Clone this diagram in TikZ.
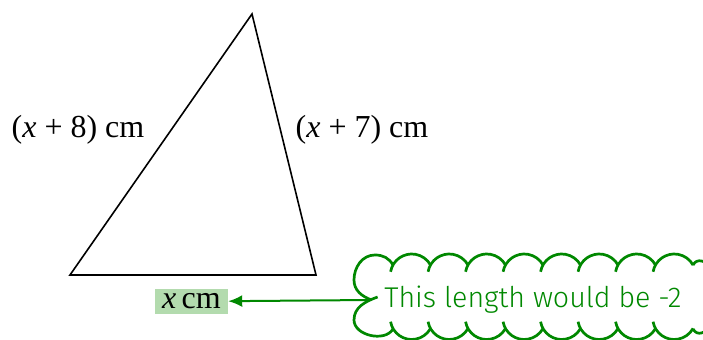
\documentclass[tikz,border=0pt]{standalone}
\usepackage{fontspec}
\setmainfont{Liberation Serif}
\newfontfamily\notefont{Fira Sans Light}
\usepackage{tikz}
\usetikzlibrary{arrows.meta, positioning}
\definecolor{notegreen}{HTML}{008800}
\definecolor{markgreen}{HTML}{B3DBAE}

\begin{document}
\begin{tikzpicture}[x=0.5pt, y=0.5pt,
  side/.style={font=\fontsize{16}{19}\selectfont},
  base/.style={fill=markgreen, inner xsep=3.5pt, inner ysep=2.5pt, font=\fontsize{16}{19}\selectfont},
  note/.style={minimum width=161pt, minimum height=30pt, inner sep=0pt, text=notegreen,
               font=\notefont\fontsize{14.3}{17}\selectfont},
  puff/.style={draw=notegreen, line width=1.35pt},
]
  \useasboundingbox (0,0) rectangle (703,340);
  % triangle
  \coordinate (a) at (70,65);
  \coordinate (b) at (316,65);
  \coordinate (c) at (252,326);
  \draw[line width=0.8pt, line join=miter] (a) -- (b) -- (c) -- cycle;
  \node[side] (left) at (78,210) {(\textit{x} + 8) cm};
  \node[side] (right) at (362,210) {(\textit{x} + 7) cm};
  \node[base] (len) at (191.5,38.5) {\textit{x}\,cm};
  % cloud
  \node[note] (msg) at (533,40) {This length would be -2};
  \foreach \k in {0,...,7} {
    \draw[puff] ({411.75+37.5*\k},64.5) ++(170:10.75pt) arc[start angle=170, end angle=29, radius=10.75pt];
    \draw[puff] ({411.75+37.5*\k},22) ++(190:10.75pt) arc[start angle=190, end angle=331, radius=10.75pt];
  }
  \draw[puff] (393,75) to[out=120,in=0] (375,85) to[out=180,in=90] (354,60) to[out=-90,in=160] (msg.west)
              (msg.west) ++(6,3) to[out=200,in=90] (354,20) to[out=-90,in=-120] (393,11);
  \draw[puff] (693,75) to[out=60,in=90] (725,45) to[out=-90,in=-60] (693,11);
  \draw[-{Latex[length=7pt,width=6pt]}, line width=1pt, notegreen] (msg.west) -- (len);
\end{tikzpicture}
\end{document}
